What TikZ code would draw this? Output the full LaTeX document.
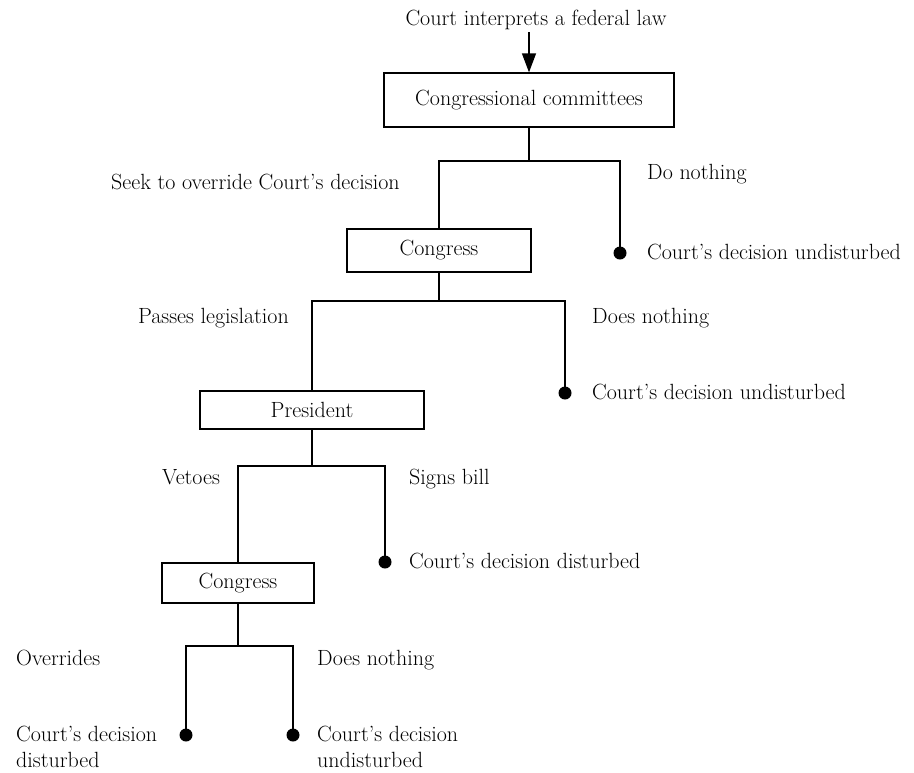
\documentclass[tikz,border=0pt]{standalone}
\usepackage{fontspec}
\usetikzlibrary{arrows.meta}
\begin{document}
\begin{tikzpicture}[x=1pt,y=-1pt,
  txt/.style={font=\fontsize{22}{28}\selectfont},
  lbl/.style={txt, inner sep=0pt},
  box/.style={txt, draw, line width=1.3pt, inner sep=0pt},
  conn/.style={line width=1.3pt},
  dot/.style={circle, fill, inner sep=0pt, minimum size=13pt},
  arr/.style={line width=1.3pt, -{Triangle[width=14pt,length=19pt]}}]
\useasboundingbox (0,0) rectangle (914,772);

% boxes
\node[box, minimum width=290pt, minimum height=54pt] (cc) at (529,100) {Congressional committees};
\node[box, minimum width=184pt, minimum height=43pt] (c1) at (439,250.5) {Congress};
\node[box, minimum width=224pt, minimum height=38pt] (pr) at (312,410) {President};
\node[box, minimum width=152pt, minimum height=40pt] (c2) at (238,583) {Congress};

% top text and arrow
\node[lbl, anchor=base] (top) at (536,25) {Court interprets a federal law};
\coordinate (tstart) at (529,32);
\draw[arr] (tstart) -- (cc.north);

% dots
\node[dot] (d1) at (620,253) {};
\node[dot] (d2) at (565,393) {};
\node[dot] (d3) at (385,562) {};
\node[dot] (d4) at (186,735) {};
\node[dot] (d5) at (293,735) {};

% junction levels
\coordinate (h1) at (0,161);
\coordinate (h2) at (0,301);
\coordinate (h3) at (0,466);
\coordinate (h4) at (0,646);

\draw[conn] (cc.south) -- (cc.south |- h1);
\draw[conn] (c1.north) |- (d1.center |- h1) -- (d1.center);

\draw[conn] (c1.south) -- (c1.south |- h2);
\draw[conn] (pr.north) |- (d2.center |- h2) -- (d2.center);

\draw[conn] (pr.south) -- (pr.south |- h3);
\draw[conn] (c2.north) |- (d3.center |- h3) -- (d3.center);

\draw[conn] (c2.south) -- (c2.south |- h4);
\draw[conn] (d4.center) |- (d5.center |- h4) -- (d5.center);

% labels
\node[lbl, anchor=base west] (l1) at (111,189) {Seek to override Court's decision};
\node[lbl, anchor=base west] (l2) at (647,179) {Do nothing};
\node[lbl, anchor=base west] (r1) at (647,259) {Court's decision undisturbed};

\node[lbl, anchor=base east] (l3) at (289,323) {Passes legislation};
\node[lbl, anchor=base west] (l4) at (592,323) {Does nothing};
\node[lbl, anchor=base west] (r2) at (592,399) {Court's decision undisturbed};

\node[lbl, anchor=base west] (l5) at (162,484) {Vetoes};
\node[lbl, anchor=base west] (l6) at (409,484) {Signs bill};
\node[lbl, anchor=base west] (r3) at (409,568) {Court's decision disturbed};

\node[lbl, anchor=base west] (l7) at (16,665) {Overrides};
\node[lbl, anchor=base west] (l8) at (317,665) {Does nothing};
\node[lbl, anchor=base west] (r4a) at (16,741) {Court's decision};
\node[lbl, anchor=base west] (r4b) at (16,767) {disturbed};
\node[lbl, anchor=base west] (r5a) at (317,741) {Court's decision};
\node[lbl, anchor=base west] (r5b) at (317,767) {undisturbed};
\end{tikzpicture}
\end{document}
